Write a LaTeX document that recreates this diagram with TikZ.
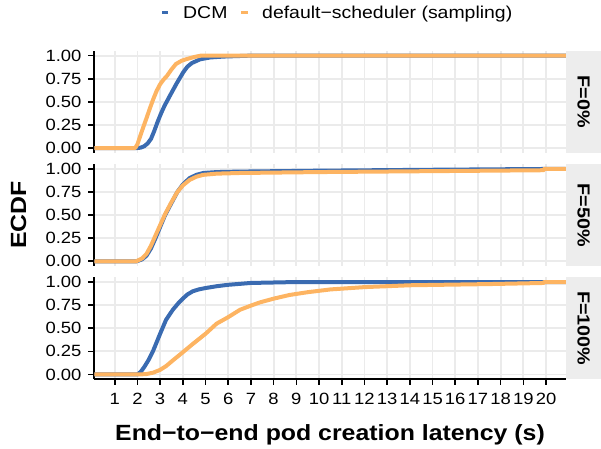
\documentclass[tikz,border=0pt]{standalone}
\usepackage{fontspec}
\setmainfont{Liberation Sans}[FakeStretch=1.13]
\definecolor{dcmblue}{HTML}{3A6BB1}
\definecolor{schedorange}{HTML}{FDB462}
\definecolor{gridgrey}{HTML}{EBEBEB}
\definecolor{stripgrey}{HTML}{EDEDED}

% x range of every facet, in seconds
\newcommand{\panelxmin}{0.1}
\newcommand{\panelxmax}{20.87}

\begin{document}
\begin{tikzpicture}[x=1pt, y=1pt,
    panel/.style={shift={(92pt,#1)}, x=22.7pt, y=92.45pt},
    gridline/.style={gridgrey, line width=1.8pt},
    axisline/.style={black, line width=1.6pt},
    ecdf/.style={line width=4pt, line join=round},
    ticklabel/.style={inner sep=0pt, font=\fontsize{16.3}{16.3}\selectfont},
    striplabel/.style={inner sep=0pt, rotate=-90, font=\fontsize{17.5}{17.5}\selectfont\bfseries},
    axistitle/.style={inner sep=0pt, font=\fontsize{22}{22}\selectfont\bfseries},
    legendlabel/.style={inner sep=0pt, anchor=base west, font=\fontsize{17.2}{17.2}\selectfont},
    legendkey/.style={inner sep=0pt, minimum width=6.7pt, minimum height=3.3pt}]

    \useasboundingbox (0,0) rectangle (601,448);

    % facets: grid, left axis, strip
    \foreach \p/\ybase/\flab in {1/299.92pt/0, 2/186.72pt/50, 3/73.52pt/100} {
        \begin{scope}[panel=\ybase]
            \foreach \gx in {1,...,20}
                \draw[gridline] (\gx,-0.05) -- (\gx,1.05);
            \foreach \gy in {0,0.25,0.5,0.75,1}
                \draw[gridline] (\panelxmin,\gy) -- (\panelxmax,\gy);
            \fill[stripgrey] (\panelxmax,-0.05) rectangle (22.43,1.05);
            \node[striplabel] (strip\p) at (21.66,0.5) {F=\flab\%};
            \draw[axisline] (\panelxmin,-0.05) -- (\panelxmin,1.05);
            \foreach \gy/\ylab [count=\i] in {0/0.00, 0.25/0.25, 0.5/0.50, 0.75/0.75, 1/1.00} {
                \draw[axisline] (\panelxmin,\gy) -- ++(-6pt,0);
                \node[ticklabel, anchor=east] (ytick\p\i) at ([xshift=-12.6pt]\panelxmin,\gy) {\ylab};
            }
        \end{scope}
    }

    % F=0%
    \begin{scope}[panel=299.92pt]
        \draw[ecdf, dcmblue] plot coordinates {(0.1,0) (1.97,0) (2.15,0.005) (2.3,0.02) (2.45,0.05) (2.6,0.1) (2.75,0.19) (2.9,0.29) (3.05,0.38) (3.2,0.46) (3.44,0.57) (3.73,0.7) (4.02,0.82) (4.2,0.88) (4.4,0.92) (4.76,0.96) (5.2,0.98) (5.8,0.99) (7,1) (20.87,1)};
        \draw[ecdf, schedorange] plot coordinates {(0.1,0) (1.9,0) (2.0,0.04) (2.11,0.12) (2.25,0.22) (2.41,0.33) (2.55,0.43) (2.7,0.53) (2.85,0.62) (3.0,0.69) (3.15,0.74) (3.3,0.78) (3.5,0.85) (3.7,0.91) (3.95,0.945) (4.2,0.965) (4.5,0.985) (4.8,1) (20.87,1)};
    \end{scope}

    % F=50%
    \begin{scope}[panel=186.72pt]
        \draw[ecdf, dcmblue] plot coordinates {(0.1,0) (1.97,0) (2.2,0.02) (2.4,0.06) (2.6,0.14) (2.78,0.24) (3.0,0.37) (3.22,0.5) (3.5,0.63) (3.76,0.75) (4.0,0.83) (4.3,0.9) (4.6,0.935) (4.9,0.955) (5.5,0.965) (6.5,0.97) (10,0.98) (15,0.99) (20.87,1)};
        \draw[ecdf, schedorange] plot coordinates {(0.1,0) (1.95,0) (2.2,0.03) (2.4,0.08) (2.6,0.17) (2.78,0.27) (3.0,0.39) (3.22,0.51) (3.5,0.64) (3.76,0.75) (4.0,0.82) (4.3,0.88) (4.6,0.915) (4.9,0.935) (5.5,0.948) (6.5,0.955) (10,0.965) (15,0.975) (19.92,0.985) (19.92,1) (20.87,1)};
    \end{scope}

    % F=100%
    \begin{scope}[panel=73.52pt]
        \draw[ecdf, dcmblue] plot coordinates {(0.1,0) (2.0,0) (2.15,0.03) (2.3,0.08) (2.5,0.16) (2.7,0.26) (2.85,0.35) (3.0,0.44) (3.26,0.59) (3.56,0.7) (3.8,0.77) (4.0,0.82) (4.2,0.865) (4.44,0.9) (4.7,0.92) (5.0,0.935) (5.5,0.955) (6.0,0.97) (7.0,0.99) (9,1) (20.87,1)};
        \draw[ecdf, schedorange] plot coordinates {(0.1,0) (2.1,0) (2.4,0.005) (2.7,0.02) (3.0,0.05) (3.26,0.09) (3.6,0.16) (4.0,0.24) (4.44,0.33) (5.0,0.44) (5.49,0.55) (6.0,0.62) (6.52,0.7) (7.0,0.745) (7.4,0.78) (8,0.82) (8.7,0.86) (9.5,0.89) (10.5,0.92) (12,0.945) (14,0.965) (17.5,0.978) (19.92,0.99) (19.92,1) (20.87,1)};
        % x axis
        \draw[axisline] (\panelxmin,-0.05) -- (\panelxmax,-0.05);
        \foreach \gx in {1,...,20} {
            \draw[axisline] (\gx,-0.05) -- ++(0,-6pt);
            \node[ticklabel, anchor=base] (xtick\gx) at ([yshift=-25.3pt]\gx,-0.05) {\gx};
        }
    \end{scope}

    % titles
    \node[axistitle, anchor=base] (xtitle) at (330,7.3) {End−to−end pod creation latency (s)};
    \node[axistitle, rotate=90] (ytitle) at (18.5,233) {ECDF};

    % legend
    \node[legendkey, fill=dcmblue] (keydcm) at (165,435.7) {};
    \node[legendlabel] (labdcm) at (183,429) {DCM};
    \node[legendkey, fill=schedorange] (keysched) at (244.4,435.7) {};
    \node[legendlabel] (labsched) at (262,429) {default−scheduler (sampling)};
\end{tikzpicture}
\end{document}
